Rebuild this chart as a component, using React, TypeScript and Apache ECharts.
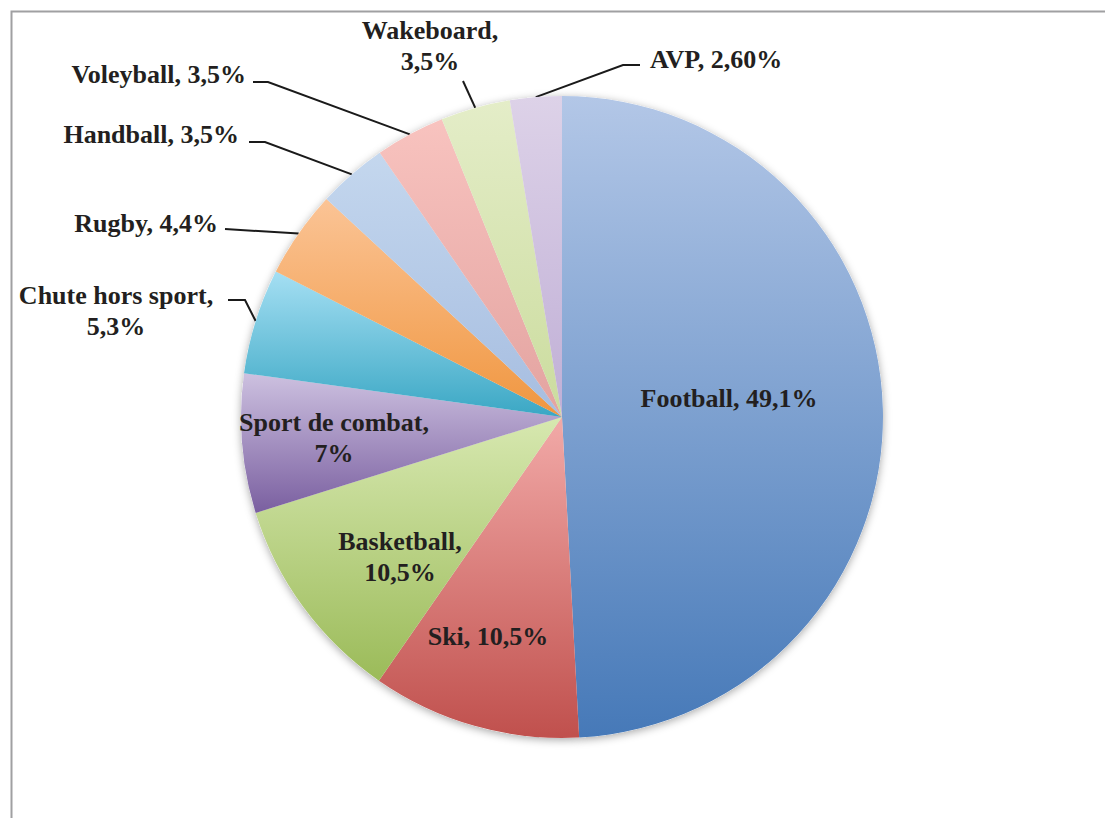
import React, { useEffect, useRef } from "react";
import * as echarts from "echarts";

const categories = [
  "Football",
  "Ski",
  "Basketball",
  "Sport de combat",
  "Chute hors sport",
  "Rugby",
  "Handball",
  "Voleyball",
  "Wakeboard",
  "AVP",
];
const values = [49.1, 10.5, 10.5, 7, 5.3, 4.4, 3.5, 3.5, 3.5, 2.6];
const valueLabels = ["49,1%", "10,5%", "10,5%", "7%", "5,3%", "4,4%", "3,5%", "3,5%", "3,5%", "2,60%"];
const breakLine = [false, false, true, true, true, false, false, false, true, false];
const insideLabel = [true, true, true, true, false, false, false, false, false, false];

const topColors = ["#b3c7e7", "#f2aaa8", "#d7e8b0", "#cdc1e0", "#a5dff3", "#fbc496", "#c4d7ee", "#f8c3bf", "#e4edc8", "#ddd2e8"];
const bottomColors = ["#4679b8", "#c0504d", "#9bbb59", "#7a5fa0", "#3aa7c4", "#f0963f", "#a6bde0", "#e3a3a0", "#cbdc9e", "#c0afd6"];

// label placement (layout, not data)
const CX = 562;
const CY = 417;
const R = 321;
const labelPos: { x: number; y: number; align: string; bend?: number[][] }[] = [
  { x: 729, y: 398, align: "center" },
  { x: 488, y: 636, align: "center" },
  { x: 400, y: 557, align: "center" },
  { x: 334, y: 438, align: "center" },
  { x: 116, y: 311, align: "center", bend: [[245, 300], [228, 300]] },
  { x: 218, y: 223, align: "right", bend: [[225, 229]] },
  { x: 239, y: 134, align: "right", bend: [[265, 142], [249, 142]] },
  { x: 246, y: 74, align: "right", bend: [[268, 82], [253, 82]] },
  { x: 430, y: 46, align: "center", bend: [[463, 81]] },
  { x: 650, y: 59, align: "left", bend: [[623, 65], [640, 65]] },
];

export default function App() {
  const ref = useRef<HTMLDivElement>(null);
  useEffect(() => {
    if (!ref.current) return;
    const chart = echarts.init(ref.current, null, { renderer: "svg" });
    const total = values.reduce((a, b) => a + b, 0);
    const edges: number[][] = [];
    let cum = 0;
    values.forEach((v) => {
      const mid = (cum + v / 2) / total;
      const ang = mid * Math.PI * 2;
      edges.push([CX + R * Math.sin(ang), CY - R * Math.cos(ang)]);
      cum += v;
    });
    const font = {
      fontFamily: "Liberation Serif",
      fontWeight: "bold" as const,
      fontSize: 26,
      lineHeight: 31,
      color: "#231f20",
    };
    const data = categories.map((c, i) => ({
      name: c,
      value: values[i],
      itemStyle: {
        color: new echarts.graphic.LinearGradient(0, 0, 0, 1, [
          { offset: 0, color: topColors[i] },
          { offset: 1, color: bottomColors[i] },
        ]),
      },
      label: {
        show: true,
        position: insideLabel[i] ? "inside" : "outside",
        formatter: c + "," + (breakLine[i] ? "\n" : " ") + valueLabels[i],
        ...font,
      },
      labelLine: { show: !insideLabel[i] },
    }));
    chart.setOption({
      animation: false,
      backgroundColor: "#ffffff",
      graphic: [
        {
          type: "rect",
          left: 9,
          top: 9,
          shape: { x: 0, y: 0, width: 1200, height: 1000 },
          style: { fill: "none", stroke: "#a0a0a2", lineWidth: 2 },
          z: -10,
        },
      ],
      series: [
        {
          type: "pie",
          silent: true,
          center: [CX, CY],
          radius: [0, R],
          startAngle: 90,
          label: { show: false },
          labelLine: { show: false },
          itemStyle: {
            color: "#ffffff",
            shadowBlur: 8,
            shadowColor: "rgba(0,0,0,0.35)",
            shadowOffsetY: 2,
          },
          data: categories.map((c, i) => ({ name: c, value: values[i] })),
          z: 1,
        },
        {
          type: "pie",
          center: [CX, CY],
          radius: [0, R],
          startAngle: 90,
          avoidLabelOverlap: false,
          itemStyle: { borderWidth: 0 },
          labelLine: { lineStyle: { color: "#1a1a1a", width: 2 }, length: 15, length2: 15 },
          data,
          z: 2,
          labelLayout: (params: any) => {
            if (params.seriesIndex !== 1) return {};
            const i = params.dataIndex;
            const p = labelPos[i];
            const out: any = {
              x: p.x,
              y: p.y,
              align: p.align,
              verticalAlign: "middle",
            };
            if (p.bend) out.labelLinePoints = [edges[i], ...p.bend];
            return out;
          },
        },
      ],
    });
    return () => chart.dispose();
  }, []);
  return (
    <div
      ref={ref}
      style={{ position: "fixed", left: 0, top: 0, width: 1105, height: 818 }}
    />
  );
}
